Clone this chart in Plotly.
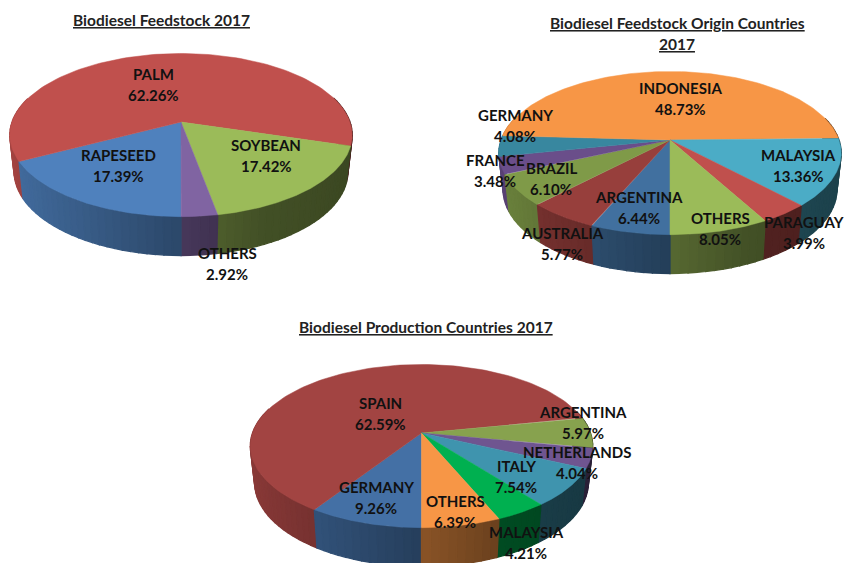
import numpy as np
import plotly.graph_objects as go

# ---- data ----
feed_names = ["RAPESEED", "PALM", "SOYBEAN", "OTHERS"]
feed_values = [17.39, 62.26, 17.42, 2.92]
feed_colors = ["#4F81BD", "#C0504D", "#9BBB59", "#8064A2"]

origin_names = ["ARGENTINA", "AUSTRALIA", "BRAZIL", "FRANCE", "GERMANY",
                "INDONESIA", "MALAYSIA", "PARAGUAY", "OTHERS"]
origin_values = [6.44, 5.77, 6.10, 3.48, 4.08, 48.73, 13.36, 3.99, 8.05]
origin_colors = ["#41709F", "#973F3C", "#7F9A48", "#6A4E8A", "#38879F",
                 "#F79646", "#4BACC6", "#C0504D", "#9BBB59"]

prod_names = ["GERMANY", "SPAIN", "ARGENTINA", "NETHERLANDS", "ITALY", "MALAYSIA", "OTHERS"]
prod_values = [9.26, 62.59, 5.97, 4.04, 7.54, 4.21, 6.39]
prod_colors = ["#4470A5", "#A24442", "#87A24E", "#6F5590", "#3F94AE", "#00B050", "#F79646"]

feed_title = ["Biodiesel Feedstock 2017"]
origin_title = ["Biodiesel Feedstock Origin Countries", "2017"]
prod_title = ["Biodiesel Production Countries 2017"]

# ---- layout constants (pixels of the 845x563 canvas) ----
W, H = 845, 563
A, B, K = 79.5, 169.0, 0.16      # perspective ellipse
DEPTH, SX, SY = 36.0, 0.975, 1.03
FONT = "Lato"
LINE = 21
feed_pos = [(118, 165.5), (153, 84.5), (266, 155), (227, 263.5)]
origin_pos = [(639, 207), (562, 243), (551, 178), (495, 170), (515, 125),
              (680, 98), (798, 165), (804, 232), (720, 228)]
prod_pos = [(376, 497), (380, 413), (583, 422.5), (577, 462), (516, 476.5), (526, 542), (455, 511)]


def rgb(hexc, f=1.0):
    h = hexc.lstrip("#")
    return "rgb(%d,%d,%d)" % tuple(int(int(h[i:i + 2], 16) * f) for i in (0, 2, 4))


def top(cx, cy, t):
    u, v = np.sin(t), -np.cos(t)
    d = 1 - K * v
    return cx + B * u / d, cy + A * v / d


def bottom(cx, cy, t):
    u, v = np.sin(t), -np.cos(t)
    d = 1 - K * v
    return cx + SX * B * u / d, cy + DEPTH + SY * A * v / d


def add_pie(fig, cx, cy, values, colors):
    edges = np.pi + np.cumsum([0] + list(values)) / 100 * 2 * np.pi
    walls = []
    for i, col in enumerate(colors):
        n = max(2, int((edges[i + 1] - edges[i]) / np.radians(2.5)))
        ts = np.linspace(edges[i], edges[i + 1], n + 1)
        for a, b in zip(ts[:-1], ts[1:]):
            m = (a + b) / 2
            if -np.cos(m) < -0.3:
                continue
            f = np.interp(np.sin(m), [-1, -0.5, 0, 0.4, 1], [0.86, 0.72, 0.56, 0.43, 0.38])
            walls.append((-np.cos(m), a, b, rgb(col, f)))
    for _, a, b, c in sorted(walls, key=lambda w: w[0]):
        x1, y1 = top(cx, cy, np.array([a, b]))
        x2, y2 = bottom(cx, cy, np.array([b, a]))
        fig.add_trace(go.Scatter(x=np.r_[x1, x2, x1[0]], y=np.r_[y1, y2, y1[0]], mode="lines",
                                 fill="toself", fillcolor=c, line=dict(color=c, width=1.3),
                                 hoverinfo="skip", showlegend=False))
    for i, col in enumerate(colors):
        ts = np.linspace(edges[i], edges[i + 1], 120)
        x, y = top(cx, cy, ts)
        fig.add_trace(go.Scatter(x=np.r_[cx, x, cx], y=np.r_[cy, y, cy], mode="lines",
                                 fill="toself", fillcolor=rgb(col), line=dict(color=rgb(col), width=0.5),
                                 hoverinfo="skip", showlegend=False))


fig = go.Figure()
add_pie(fig, 181, 122, feed_values, feed_colors)
add_pie(fig, 670, 140, origin_values, origin_colors)
add_pie(fig, 421.5, 433, prod_values, prod_colors)

ann = []
for names, values, pos in [(feed_names, feed_values, feed_pos),
                           (origin_names, origin_values, origin_pos),
                           (prod_names, prod_values, prod_pos)]:
    for n, v, (x, y) in zip(names, values, pos):
        for text, yy in [(n, y - LINE / 2), (f"{v:.2f}%", y + LINE / 2)]:
            ann.append(dict(x=x, y=yy, xref="x", yref="y", text=text, showarrow=False,
                            font=dict(family=FONT, size=15, color="#111111", weight="bold")))
for lines, x, y in [(feed_title, 161, 20), (origin_title, 677, 23), (prod_title, 426, 327)]:
    for i, text in enumerate(lines):
        ann.append(dict(x=x, y=y + i * LINE, xref="x", yref="y", text=text, showarrow=False,
                        font=dict(family=FONT, size=15.5, color="#222222", weight="bold",
                                  lineposition="under")))

fig.update_layout(width=W, height=H, margin=dict(l=0, r=0, t=0, b=0), paper_bgcolor="white",
                  plot_bgcolor="white", showlegend=False, annotations=ann,
                  xaxis=dict(range=[0, W], visible=False, fixedrange=True),
                  yaxis=dict(range=[H, 0], visible=False, fixedrange=True))
fig.write_html("out.html", config=dict(displayModeBar=False),
               post_script="document.body.style.margin='0';document.body.style.overflow='hidden';")
